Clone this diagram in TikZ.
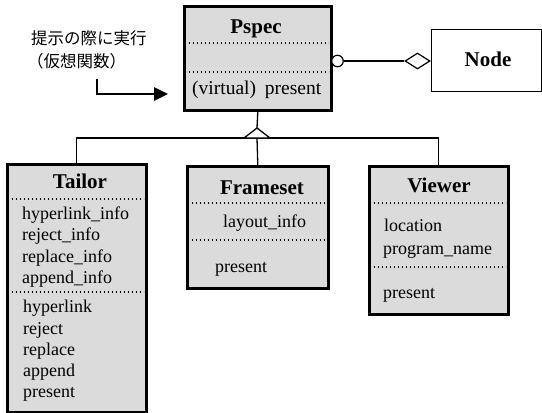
\documentclass[tikz,border=0pt]{standalone}
\usepackage{fontspec}
\setmainfont{Liberation Serif}
\newfontfamily\jpfont{Noto Sans CJK JP}
\usetikzlibrary{arrows.meta,shapes.geometric}
\begin{document}
\begin{tikzpicture}[x=1pt,y=-1pt,
  cls/.style={draw=black, line width=2.6pt, fill=black!14, inner sep=0pt, anchor=north west},
  plain/.style={draw=black, line width=1.2pt, fill=white, inner sep=0pt, anchor=north west},
  sep/.style={line width=1.1pt, dash pattern=on 1.2pt off 2.8pt},
  title/.style={inner sep=0pt, font=\bfseries\fontsize{21}{21}\selectfont, text height=0.68em, text depth=0.22em},
  item/.style={inner sep=0pt, anchor=west, font=\fontsize{18}{18}\selectfont, text height=0.68em, text depth=0.22em},
  jp/.style={inner sep=0pt, anchor=west, font=\jpfont\fontsize{16.5}{16.5}\selectfont},
  conn/.style={line width=1.3pt}]
\useasboundingbox (0,0) rectangle (542,413);

% boxes
\node[cls, minimum width=147pt, minimum height=104pt] (pspec) at (183,5) {};
\node[plain, minimum width=110pt, minimum height=62pt] (node) at (431,29) {};
\node[cls, minimum width=139pt, minimum height=248pt] (tailor) at (6,163) {};
\node[cls, minimum width=141pt, minimum height=122pt] (frameset) at (186,165) {};
\node[cls, minimum width=139pt, minimum height=148pt] (viewer) at (368,165) {};

% Pspec
\node[title] (pspect) at (256,31) {Pspec};
\draw[sep] (184.5,43) -- (328.5,43);
\draw[sep] (184.5,72) -- (328.5,72);
\node[item, font=\fontsize{19.5}{19.5}\selectfont] (pspec1) at (192,92) {(virtual)\hspace{0.45em}present};

% Node
\node[title] (nodet) at (488,64) {Node};

% Tailor
\node[title] (tailort) at (80,186) {Tailor};
\draw[sep] (7.5,199) -- (143.5,199);
\node[item] (ta1) at (22,217) {hyperlink\_info};
\node[item] (ta2) at (22,238) {reject\_info};
\node[item] (ta3) at (22,260) {replace\_info};
\node[item] (ta4) at (22,281) {append\_info};
\draw[sep] (7.5,292) -- (143.5,292);
\node[item] (tm1) at (23,310) {hyperlink};
\node[item] (tm2) at (23,332) {reject};
\node[item] (tm3) at (23,353) {replace};
\node[item] (tm4) at (23,374) {append};
\node[item] (tm5) at (23,395) {present};

% Frameset
\node[title] (framesett) at (262,192) {Frameset};
\draw[sep] (187.5,203) -- (325.5,203);
\node[item] (fa1) at (223,225) {layout\_info};
\draw[sep] (187.5,240) -- (325.5,240);
\node[item] (fm1) at (215,270) {present};

% Viewer
\node[title] (viewert) at (439,190) {Viewer};
\draw[sep] (369.5,203) -- (505.5,203);
\node[item] (va1) at (384,229) {location};
\node[item] (va2) at (383,252) {program\_name};
\draw[sep] (369.5,267) -- (505.5,267);
\node[item] (vm1) at (383,296) {present};

% aggregation Pspec -- Node
\node[circle, draw=black, line width=1.2pt, fill=white, minimum size=11.5pt, inner sep=0pt] (circ) at (337.5,61) {};
\node[diamond, draw=black, line width=1.2pt, fill=white, minimum width=25pt, minimum height=16pt, inner sep=0pt] (dia) at (417.5,61) {};
\draw[conn] (circ.east) -- (dia.west);

% inheritance
\coordinate (apex) at (257,128);
\coordinate (bar) at (257,138);
\draw[conn] (pspec.south) -- (apex);
\draw[conn] (tailor.north) -- (tailor.north |- bar) -- (viewer.north |- bar) -- (viewer.north);
\draw[conn] (bar) -- (frameset.north);
\draw[conn, fill=white, line join=miter] (apex) -- (244,138) -- (270,138) -- cycle;

% note
\node[jp] (note1) at (31,38) {提示の際に実行};
\node[jp] (note2) at (27,61) {（仮想関数）};
\coordinate (a0) at (97,79);
\coordinate (a1) at (168,94);
\draw[line width=2.6pt, -{Triangle[length=14pt,width=13pt]}] (a0) |- (a1);
\end{tikzpicture}
\end{document}
